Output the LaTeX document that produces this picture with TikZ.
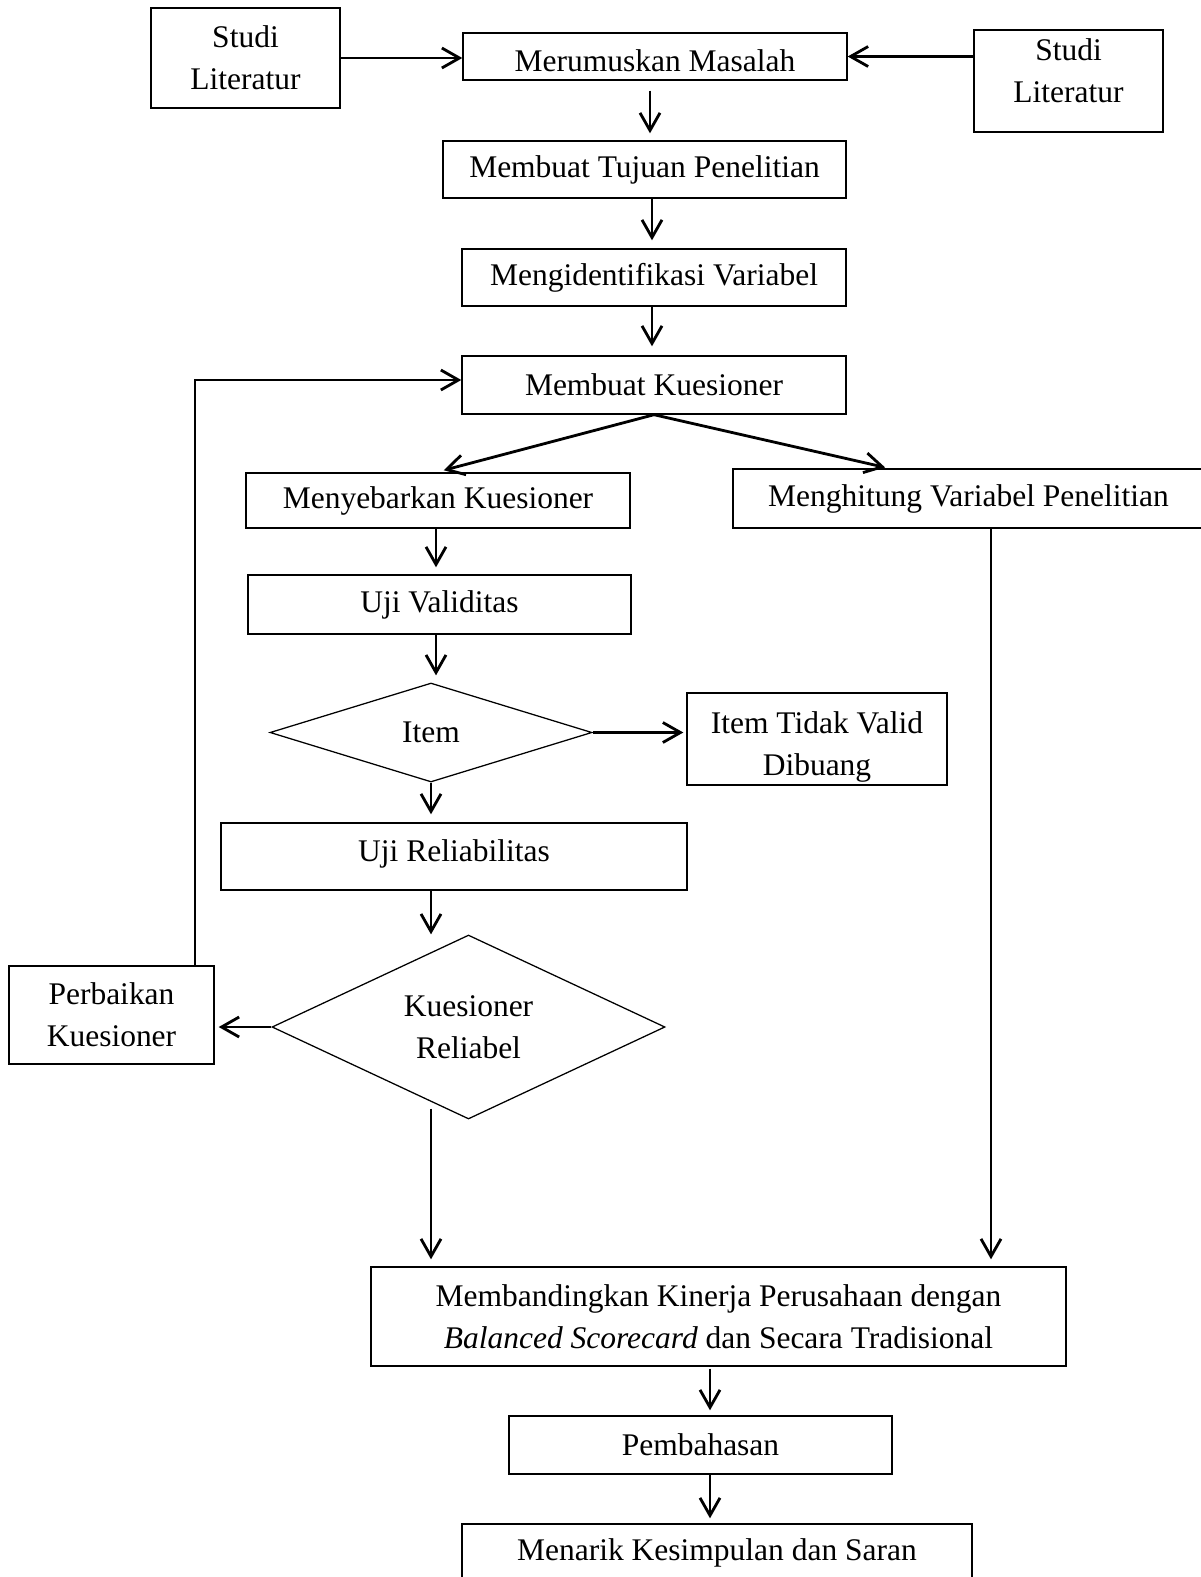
\documentclass[tikz,border=0pt]{standalone}
\usepackage{fontspec}
\setmainfont{Liberation Serif}
\usetikzlibrary{positioning, shapes.geometric, arrows.meta}

\begin{document}
\begin{tikzpicture}[x=0.125mm, y=-0.125mm,
        font=\fontsize{11.2}{14.9}\selectfont,
        kotak/.style={draw, rectangle, line width=0.5pt, inner sep=0pt, align=center},
        belah/.style={draw, diamond, line width=0.45pt, inner sep=0pt, align=center},
        panah/.style={-{Straight Barb[length=2.2mm, width=2.5mm]}, line width=1pt}]
        % one pixel of the page
        \def\px{0.125mm}

        % Page size
        \path[fill=white, use as bounding box] (0,0) rectangle (1200,1577);

        % Top row
        \node[kotak, minimum width=189*\px, minimum height=100*\px] (studikiri) at (245.5,58) {Studi\\Literatur};
        \node[kotak, minimum width=384*\px, minimum height=47*\px, text height=10.6pt, text depth=0pt] (masalah) at (655,56.5) {Merumuskan Masalah};
        \node[kotak, minimum width=189*\px, minimum height=102*\px, text depth=21*\px] (studikanan) at (1068.5,81) {Studi\\Literatur};

        % Main column
        \node[kotak, minimum width=403*\px, minimum height=57*\px] (tujuan) at (644.5,169.5) {Membuat Tujuan Penelitian};
        \node[kotak, minimum width=384*\px, minimum height=57*\px] (variabel) at (654,277.5) {Mengidentifikasi Variabel};
        \node[kotak, minimum width=384*\px, minimum height=58*\px] (kuesioner) at (654,385) {Membuat Kuesioner};

        % Left branch
        \node[kotak, minimum width=384*\px, minimum height=55*\px] (menyebar) at (438,500.5) {Menyebarkan Kuesioner};
        \node[kotak, minimum width=383*\px, minimum height=59*\px] (validitas) at (439.5,604.5) {Uji Validitas};
        \node[belah, aspect=3.25, minimum width=322*\px, minimum height=99*\px] (item) at (431,732.5) {Item};
        \node[kotak, minimum width=260*\px, minimum height=92*\px,
            path picture={\node[align=center] at ([yshift=-8*\px]path picture bounding box.center) {Item Tidak Valid\\Dibuang};}]
            (tidakvalid) at (817,739) {};
        \node[kotak, minimum width=466*\px, minimum height=67*\px, text depth=12*\px] (reliabilitas) at (454,856.5) {Uji Reliabilitas};
        \node[belah, aspect=2.14, minimum width=393*\px, minimum height=184*\px] (reliabel) at (468.5,1027) {Kuesioner\\Reliabel};
        \node[kotak, minimum width=205*\px, minimum height=98*\px] (perbaikan) at (111.5,1015) {Perbaikan\\Kuesioner};

        % Right branch
        \node[kotak, minimum width=471*\px, minimum height=59*\px] (menghitung) at (968.5,498.5) {Menghitung Variabel Penelitian};

        % Bottom part
        \node[kotak, minimum width=695*\px, minimum height=99*\px] (banding) at (718.5,1316.5) {Membandingkan Kinerja Perusahaan dengan\\\textit{Balanced Scorecard} dan Secara Tradisional};
        \node[kotak, minimum width=383*\px, minimum height=58*\px] (bahas) at (700.5,1445) {Pembahasan};
        \node[kotak, minimum width=510*\px, minimum height=58*\px] (menarik) at (717,1553) {Menarik Kesimpulan dan Saran};

        % Arrows of the top row
        \draw[panah] (studikiri.east) -- (studikiri.east -| masalah.west);
        \draw[panah] (masalah.east -| studikanan.west) -- (masalah.east);

        % Arrows down the main column
        \draw[panah, shorten <=10*\px, shorten >=7*\px] (masalah.south -| 650,0) -- (tujuan.north -| 650,0);
        \draw[panah, shorten >=8*\px] (tujuan.south -| 652,0) -- (variabel.north -| 652,0);
        \draw[panah, shorten >=9*\px] (variabel.south -| 652,0) -- (kuesioner.north -| 652,0);
        \draw[panah, shorten >=8*\px] (kuesioner.south) -- (menyebar.north -| 436,0);
        \draw[panah, shorten >=4*\px] (kuesioner.south) -- (menghitung.north -| 889,0);

        % Arrows of the left branch
        \draw[panah, shorten >=7*\px] (menyebar.south -| 436,0) -- (validitas.north -| 436,0);
        \draw[panah, shorten >=7*\px] (validitas.south -| 436,0) -- (item.north -| 436,0);
        \draw[panah, shorten >=3*\px] (item.east) -- (item.east -| tidakvalid.west);
        \draw[panah, shorten >=8*\px] (item.south) -- (reliabilitas.north -| item.south);
        \draw[panah] (reliabilitas.south -| 431,0) -- (reliabel.north -| 431,0);
        \draw[panah, shorten >=4*\px] (reliabel.west) -- (reliabel.west -| perbaikan.east);
        \draw[panah] (perbaikan.north -| 195,0) |- ([yshift=5*\px]kuesioner.west);
        \draw[panah, shorten <=-11*\px, shorten >=7*\px] (reliabel.south -| 431,0) -- (banding.north -| 431,0);

        % Arrow of the right branch
        \draw[panah, shorten >=7*\px] (menghitung.south -| 991,0) -- (banding.north -| 991,0);

        % Arrows of the bottom part
        \draw[panah, shorten <=2*\px, shorten >=5*\px] (banding.south -| 710,0) -- (bahas.north -| 710,0);
        \draw[panah, shorten >=5*\px] (bahas.south -| 710,0) -- (menarik.north -| 710,0);

    \end{tikzpicture}
\end{document}
